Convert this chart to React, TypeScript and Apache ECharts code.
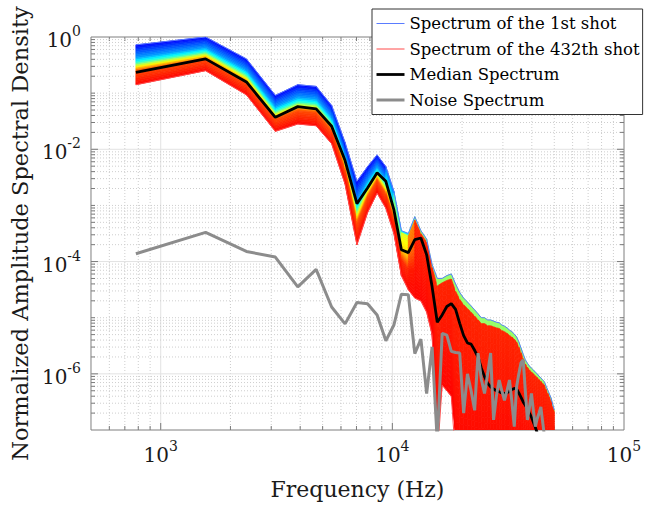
import React, { useEffect, useRef } from "react";
import * as echarts from "echarts";

// Frequency bins (Hz)
const freqs = [
  781.25, 1562.5, 2343.75, 3125, 3906.25, 4687.5, 5468.75, 6250, 7031.25, 7812.5,
  8593.75, 9375, 10156.25, 10937.5, 11718.75, 12500, 13281.25, 14062.5, 14843.75, 15625,
  16406.25, 17187.5, 17968.75, 18750, 19531.25, 20312.5, 21093.75, 21875, 22656.25, 23437.5,
  24218.75, 25000, 25781.25, 26562.5, 27343.75, 28125, 28906.25, 29687.5, 30468.75, 31250,
  32031.25, 32812.5, 33593.75, 34375, 35156.25, 35937.5, 36718.75, 37500, 38281.25, 39062.5,
  39843.75, 40625, 41406.25, 42187.5, 42968.75, 43750, 44531.25, 45312.5, 46093.75, 46875,
  47656.25, 48437.5, 49218.75, 50000,
];

// log10 of spectral density values
const shot1Exp = [
  -0.14, 0.0, -0.39, -1.04, -0.85, -0.88, -1.22, -1.88, -2.57, -2.31,
  -2.1, -2.31, -2.75, -3.45, -3.5, -3.2, -3.45, -3.6, -4.05, -4.3,
  -4.3, -4.25, -4.22, -4.4, -4.55, -4.65, -4.72, -4.79, -4.86, -4.93,
  -5.0, -5.0, -5.04, -5.04, -5.06, -5.08, -5.09, -5.13, -5.15, -5.18,
  -5.22, -5.25, -5.29, -5.34, -5.43, -5.54, -5.65, -5.75, -5.81, -5.86,
  -5.9, -5.93, -5.97, -6.0, -6.04, -6.07, -6.11, -6.14, -6.22, -6.29,
  -6.36, -6.43, -6.54, -6.64,
];
const shot432Exp = [
  -0.85, -0.6, -1.03, -1.68, -1.55, -1.58, -1.9, -2.62, -3.7, -3.13,
  -2.78, -3.05, -3.5, -4.25, -4.5, -4.65, -4.7, -4.9, -5.3, -7.5,
  -6.2, -6.3, -6.4, -7.5, -7.5, -7.5, -7.5, -7.5, -7.5, -7.5,
  -7.5, -7.5, -7.5, -7.5, -7.5, -7.5, -7.5, -7.5, -7.5, -7.5,
  -7.5, -7.5, -7.5, -7.5, -7.5, -7.5, -7.5, -7.5, -7.5, -7.5,
  -7.5, -7.5, -7.5, -7.5, -7.5, -7.5, -7.5, -7.5, -7.5, -7.5,
  -7.5, -7.5, -7.5, -7.5,
];
const medianExp = [
  -0.63, -0.39, -0.8, -1.43, -1.24, -1.28, -1.59, -2.2, -2.97, -2.69,
  -2.42, -2.57, -3.08, -3.79, -3.84, -3.61, -3.58, -3.88, -4.45, -5.08,
  -4.95, -4.8, -4.75, -4.85, -5.1, -5.32, -5.45, -5.47, -5.58, -5.7,
  -5.9, -6.05, -6.17, -6.23, -6.27, -6.3, -6.32, -6.34, -6.35, -6.34,
  -6.31, -6.28, -6.26, -6.27, -6.34, -6.42, -6.5, -6.56, -6.62, -6.7,
  -6.77, -6.86, -6.95, -7.05, -7.1, -7.15, -7.18, -7.2, -7.22, -7.25,
  -7.25, -7.28, -7.3, -7.3,
];
const noiseExp = [
  -3.86, -3.48, -3.82, -3.92, -4.45, -4.14, -4.81, -5.11, -4.73, -4.75,
  -4.95, -5.41, -5.13, -4.58, -4.59, -5.64, -5.38, -6.35, -5.52, -7.2,
  -5.28, -5.31, -5.6, -5.62, -5.63, -6.7, -6.0, -6.3, -6.65, -5.63,
  -6.1, -6.35, -6.0, -5.63, -6.82, -6.4, -6.11, -6.3, -6.47, -6.3,
  -6.11, -6.5, -6.94, -6.23, -6.0, -5.8, -5.75, -6.3, -6.82, -6.6,
  -6.35, -6.65, -6.94, -6.8, -6.7, -6.59, -6.85, -7.1, -7.2, -7.3,
  -7.3, -7.3, -7.3, -7.3,
];

// Axis grid / tick positions
const xMajorGrid = [1000, 10000];
const xMinorGrid = [
  600, 700, 800, 900, 2000, 3000, 4000, 5000, 6000, 7000, 8000, 9000,
  20000, 30000, 40000, 50000, 60000, 70000, 80000, 90000,
];
const yMajorGrid = [1e-6, 1e-4, 1e-2];
const yMinorGrid = [
  2e-7, 3e-7, 4e-7, 5e-7, 6e-7, 7e-7, 8e-7, 9e-7,
  2e-6, 3e-6, 4e-6, 5e-6, 6e-6, 7e-6, 8e-6, 9e-6,
  1e-5, 2e-5, 3e-5, 4e-5, 5e-5, 6e-5, 7e-5, 8e-5, 9e-5,
  2e-4, 3e-4, 4e-4, 5e-4, 6e-4, 7e-4, 8e-4, 9e-4,
  1e-3, 2e-3, 3e-3, 4e-3, 5e-3, 6e-3, 7e-3, 8e-3, 9e-3,
  2e-2, 3e-2, 4e-2, 5e-2, 6e-2, 7e-2, 8e-2, 9e-2,
  1e-1, 2e-1, 3e-1, 4e-1, 5e-1, 6e-1, 7e-1, 8e-1, 9e-1,
];

const legendNames = [
  "Spectrum of the 1st shot",
  "Spectrum of the 432th shot",
  "Median Spectrum",
  "Noise Spectrum",
];

const FONT = "DejaVu Serif";
const STRIPS = 24;
const lowT = [0, 0.33, 0.45, 0.55, 0.66, 1];
const lowC = [0.12, 0.28, 0.42, 0.62, 0.8, 0.87];
const highT = [0, 0.012, 0.025, 0.04, 0.06, 1];
const highC = [0.2, 0.36, 0.6, 0.72, 0.84, 0.87];

function piece(xs: number[], ys: number[], t: number) {
  if (t <= xs[0]) return ys[0];
  for (let i = 1; i < xs.length; i++) {
    if (t <= xs[i]) {
      const a = (t - xs[i - 1]) / (xs[i] - xs[i - 1]);
      return ys[i - 1] + a * (ys[i] - ys[i - 1]);
    }
  }
  return ys[ys.length - 1];
}
const cl = (v: number) => Math.max(0, Math.min(1, v));
function jet(c: number) {
  const r = cl(1.5 - Math.abs(4 * c - 3));
  const g = cl(1.5 - Math.abs(4 * c - 2));
  const b = cl(1.5 - Math.abs(4 * c - 1));
  return `rgb(${Math.round(r * 255)},${Math.round(g * 255)},${Math.round(b * 255)})`;
}
function bandColor(t: number, logf: number) {
  const w = cl((logf - 3.97) / (4.1 - 3.97));
  const c = (1 - w) * piece(lowT, lowC, t) + w * piece(highT, highC, t);
  return jet(c);
}

const toVal = (e: number) => Math.pow(10, e);
const pairs = (exps: number[]) => freqs.map((f, i) => [f, toVal(exps[i])]);

function supLabel(v: number, hideOdd: boolean) {
  const l = Math.log10(v);
  const e = Math.round(l);
  if (Math.abs(l - e) > 1e-6) return "";
  if (hideOdd && Math.abs(e) % 2 === 1) return "";
  return `{b|10}{s|${e}}`;
}
const labelRich = {
  b: { fontFamily: FONT, fontSize: 20, lineHeight: 26, color: "#1a1a1a", verticalAlign: "bottom" },
  s: { fontFamily: FONT, fontSize: 14, lineHeight: 10, color: "#1a1a1a", verticalAlign: "top" },
};

function buildOption() {
  const gridLineStyle = (major: boolean) =>
    major
      ? { stroke: "#e2e2e2", lineWidth: 1 }
      : { stroke: "#cdcdcd", lineWidth: 1, lineDash: [1, 2] };
  const tickStyle = { stroke: "#7a7a7a", lineWidth: 1 };

  const xGridData = xMajorGrid.map((v) => [v, 1e-3, 1]).concat(xMinorGrid.map((v) => [v, 1e-3, 0]));
  const yGridData = yMajorGrid.map((v) => [1000, v, 1]).concat(yMinorGrid.map((v) => [1000, v, 0]));

  const bandData = freqs.map((f, i) => [f, toVal(shot1Exp[i]), toVal(shot432Exp[i])]);

  return {
    animation: false,
    backgroundColor: "#ffffff",
    textStyle: { fontFamily: FONT },
    grid: { left: 87, right: 30, top: 37, bottom: 78, show: true, borderColor: "#7f7f7f", borderWidth: 1, backgroundColor: "#ffffff" },
    legend: {
      orient: "vertical",
      left: 372,
      top: 9,
      data: legendNames,
      itemWidth: 28,
      itemHeight: 10,
      itemGap: 8.5,
      padding: [6, 3, 6, 3],
      borderColor: "#333333",
      borderWidth: 1,
      backgroundColor: "#ffffff",
      selectedMode: false,
      itemStyle: { opacity: 0 },
      lineStyle: { width: "inherit" },
      textStyle: { fontFamily: FONT, fontSize: 16.5, color: "#000000" },
    },
    xAxis: {
      type: "log",
      logBase: 10,
      min: 500,
      max: 100000,
      axisLine: { show: false },
      axisTick: { show: false },
      splitLine: { show: false },
      axisLabel: { formatter: (v: number) => supLabel(v, false), rich: labelRich, margin: 9, showMinLabel: false },
      name: "Frequency (Hz)",
      nameLocation: "middle",
      nameGap: 48,
      nameTextStyle: { fontFamily: FONT, fontSize: 22, color: "#1a1a1a" },
    },
    yAxis: {
      type: "log",
      logBase: 10,
      min: 1e-7,
      max: 1,
      axisLine: { show: false },
      axisTick: { show: false },
      splitLine: { show: false },
      axisLabel: { formatter: (v: number) => supLabel(v, true), rich: labelRich, margin: 10 },
      name: "Normalized Amplitude Spectral Density",
      nameLocation: "middle",
      nameGap: 54,
      nameTextStyle: { fontFamily: FONT, fontSize: 22.5, color: "#1a1a1a" },
    },
    series: [
      {
        type: "custom",
        name: "xgrid",
        silent: true,
        z: 0,
        data: xGridData,
        renderItem: (params: any, api: any) => {
          const cs = params.coordSys;
          const x = api.coord([api.value(0), 1e-3])[0];
          const major = api.value(2) === 1;
          const tl = major ? 7 : 4;
          const yb = cs.y + cs.height;
          return {
            type: "group",
            children: [
              { type: "line", shape: { x1: x, y1: cs.y, x2: x, y2: yb }, style: gridLineStyle(major) },
              { type: "line", shape: { x1: x, y1: yb, x2: x, y2: yb - tl }, style: tickStyle },
              { type: "line", shape: { x1: x, y1: cs.y, x2: x, y2: cs.y + tl }, style: tickStyle },
            ],
          };
        },
      },
      {
        type: "custom",
        name: "ygrid",
        silent: true,
        z: 0,
        data: yGridData,
        renderItem: (params: any, api: any) => {
          const cs = params.coordSys;
          const y = api.coord([1000, api.value(1)])[1];
          const major = api.value(2) === 1;
          const tl = major ? 7 : 4;
          const xr = cs.x + cs.width;
          return {
            type: "group",
            children: [
              { type: "line", shape: { x1: cs.x, y1: y, x2: xr, y2: y }, style: gridLineStyle(major) },
              { type: "line", shape: { x1: cs.x, y1: y, x2: cs.x + tl, y2: y }, style: tickStyle },
              { type: "line", shape: { x1: xr, y1: y, x2: xr - tl, y2: y }, style: tickStyle },
            ],
          };
        },
      },
      {
        type: "custom",
        name: "band",
        silent: true,
        z: 2,
        clip: true,
        data: bandData,
        renderItem: (params: any, api: any) => {
          const i = params.dataIndex;
          if (i >= bandData.length - 1) return null;
          const f0 = api.value(0);
          const u0 = Math.log10(api.value(1));
          const l0 = Math.log10(api.value(2));
          const nxt = bandData[i + 1];
          const f1 = nxt[0];
          const u1 = Math.log10(nxt[1]);
          const l1 = Math.log10(nxt[2]);
          const logMid = (Math.log10(f0) + Math.log10(f1)) / 2;
          const pt = (f: number, u: number, l: number, t: number) => {
            let e = u + t * (l - u);
            e = Math.max(-7.05, Math.min(0.02, e));
            return api.coord([f, Math.pow(10, e)]);
          };
          const children: any[] = [];
          for (let s = 0; s < STRIPS; s++) {
            const ta = s / STRIPS;
            const tb = (s + 1) / STRIPS;
            const col = bandColor((ta + tb) / 2, logMid);
            children.push({
              type: "polygon",
              shape: { points: [pt(f0, u0, l0, ta), pt(f1, u1, l1, ta), pt(f1, u1, l1, tb), pt(f0, u0, l0, tb)] },
              style: { fill: col, stroke: col, lineWidth: 0.7 },
            });
          }
          return { type: "group", children };
        },
      },
      {
        type: "line",
        name: legendNames[0],
        data: pairs(shot1Exp),
        symbol: "none",
        z: 3,
        color: "#5a7cff",
        lineStyle: { color: "#5a7cff", width: 1 },
      },
      {
        type: "line",
        name: legendNames[1],
        data: pairs(shot432Exp),
        symbol: "none",
        z: 3,
        color: "#ff4a4a",
        lineStyle: { color: "#ff4a4a", width: 1 },
      },
      {
        type: "line",
        name: legendNames[2],
        data: pairs(medianExp),
        symbol: "none",
        z: 4,
        color: "#000000",
        lineStyle: { color: "#000000", width: 2.8 },
      },
      {
        type: "line",
        name: legendNames[3],
        data: pairs(noiseExp),
        symbol: "none",
        z: 5,
        color: "#8c8c8c",
        lineStyle: { color: "#8c8c8c", width: 3 },
      },
    ],
  };
}

export default function App() {
  const ref = useRef<HTMLDivElement>(null);
  useEffect(() => {
    if (!ref.current) return;
    const chart = echarts.init(ref.current, null, { renderer: "svg" });
    chart.setOption(buildOption() as any);
    return () => chart.dispose();
  }, []);
  return <div ref={ref} style={{ position: "absolute", left: 0, top: 0, width: 654, height: 508 }} />;
}
